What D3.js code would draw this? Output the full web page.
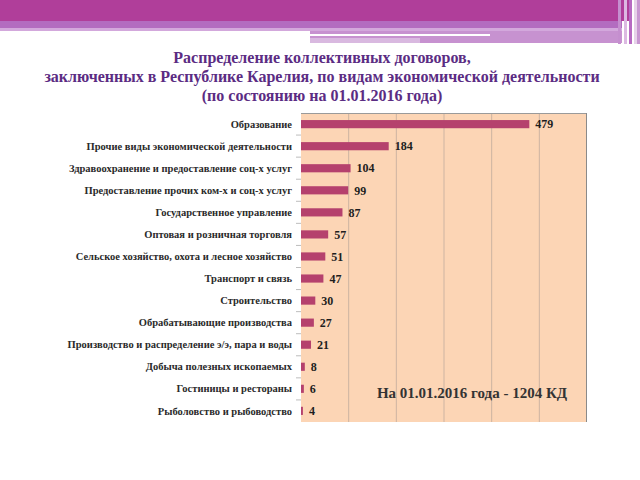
<!DOCTYPE html>
<html><head><meta charset="utf-8">
<script src="https://cdn.jsdelivr.net/npm/d3@7"></script>
<style>body{margin:0;background:#fff}svg{display:block}
text{font-family:"Liberation Serif","Times New Roman","DejaVu Serif",serif;font-weight:bold}</style>
</head><body>
<svg id="c" width="640" height="480"></svg>
<script>
const categories = [
  "Образование",
  "Прочие виды экономической деятельности",
  "Здравоохранение и предоставление соц-х услуг",
  "Предоставление прочих ком-х и соц-х услуг",
  "Государственное управление",
  "Оптовая и розничная торговля",
  "Сельское хозяйство, охота и лесное хозяйство",
  "Транспорт и связь",
  "Строительство",
  "Обрабатывающие производства",
  "Производство и распределение э/э, пара и воды",
  "Добыча полезных ископаемых",
  "Гостиницы и рестораны",
  "Рыболовство и рыбоводство"
];
const values = [479, 184, 104, 99, 87, 57, 51, 47, 30, 27, 21, 8, 6, 4];
const xTicks = [0, 100, 200, 300, 400, 500, 600];
const titleLines = [
  "Распределение коллективных договоров,",
  "заключенных в Республике Карелия,  по видам экономической деятельности",
  "(по состоянию на 01.01.2016 года)"
];
const note = "На 01.01.2016 года - 1204 КД";

const svg = d3.select("#c");
// header decoration
svg.append("rect").attr("x",0).attr("y",0).attr("width",630).attr("height",21).attr("fill","#b03e9a");
svg.append("rect").attr("x",0).attr("y",21).attr("width",622).attr("height",10).attr("fill","#b36cc0");
svg.append("rect").attr("x",0).attr("y",28).attr("width",622).attr("height",3).attr("fill","#d3a8dc");
svg.append("rect").attr("x",310).attr("y",31).attr("width",312).attr("height",12).attr("fill","#c792d0");
svg.append("rect").attr("x",310).attr("y",34).attr("width",180).attr("height",2).attr("fill","#ffffff");
svg.append("rect").attr("x",310).attr("y",38).attr("width",110).attr("height",5).attr("fill","#d9b9e0");
[[618,"#c58fcf"],[624,"#dcb9e2"],[629,"#b76ac2"],[634,"#e7d2ea"],[637,"#c897d1"]].forEach(([x,c])=>{
  svg.append("rect").attr("x",x).attr("y",0).attr("width",3).attr("height",44).attr("fill",c);
});

// title
svg.append("g").selectAll("text").data(titleLines).join("text")
  .attr("x",322).attr("y",(d,i)=>63+i*19)
  .attr("text-anchor","middle")
  .style("font-size","16px")
  .attr("fill","#5b2c83").text(d=>d);

const m = {left:301, right:587, top:113, bottom:422};
const x = d3.scaleLinear().domain([0,600]).range([m.left, m.right]);
const y = d3.scaleBand().domain(categories).range([m.top, m.bottom]).paddingInner(0.63).paddingOuter(0.32);

svg.append("rect").attr("x",m.left).attr("y",m.top).attr("width",m.right-m.left).attr("height",m.bottom-m.top).attr("fill","#fcd5b5");

// gridlines
svg.append("g").selectAll("line").data(xTicks.slice(1,-1)).join("line")
  .attr("x1",d=>x(d)).attr("x2",d=>x(d)).attr("y1",m.top).attr("y2",m.bottom)
  .attr("stroke","#cdb4a2").attr("stroke-width",1);

// borders
svg.append("line").attr("x1",m.left).attr("x2",m.right).attr("y1",m.top+0.5).attr("y2",m.top+0.5).attr("stroke","#9a9a9a");
svg.append("line").attr("x1",m.right-0.5).attr("x2",m.right-0.5).attr("y1",m.top).attr("y2",m.bottom).attr("stroke","#8a8a8a");

// y axis ticks between categories
const bounds = d3.range(categories.length+1).map(i => m.top + (m.bottom-m.top)/categories.length*i);
svg.append("g").selectAll("line").data(bounds.slice(1,-1)).join("line")
  .attr("x1",m.left-5).attr("x2",m.left).attr("y1",d=>d).attr("y2",d=>d)
  .attr("stroke","#bdbdbd");

// category labels
svg.append("g").selectAll("text").data(categories).join("text")
  .attr("x",292).attr("y",d=>y(d)+y.bandwidth()/2)
  .attr("dy","0.35em").attr("text-anchor","end")
  .style("font-size","10.5px")
  .attr("fill","#2a2a2a").text(d=>d);

// bars
svg.append("g").selectAll("rect").data(values).join("rect")
  .attr("x",x(0)).attr("y",(d,i)=>y(categories[i]))
  .attr("width",d=>x(d)-x(0)).attr("height",y.bandwidth())
  .attr("fill","#b5416d");

// value labels
svg.append("g").selectAll("text").data(values).join("text")
  .attr("x",d=>x(d)+6).attr("y",(d,i)=>y(categories[i])+y.bandwidth()/2)
  .attr("dy","0.35em")
  .style("font-size","12px")
  .attr("fill","#1e1e1e").text(d=>d);

// note
svg.append("text").attr("x",472).attr("y",398).attr("text-anchor","middle")
  .style("font-size","15px")
  .attr("fill","#333").text(note);
</script>
</body></html>
